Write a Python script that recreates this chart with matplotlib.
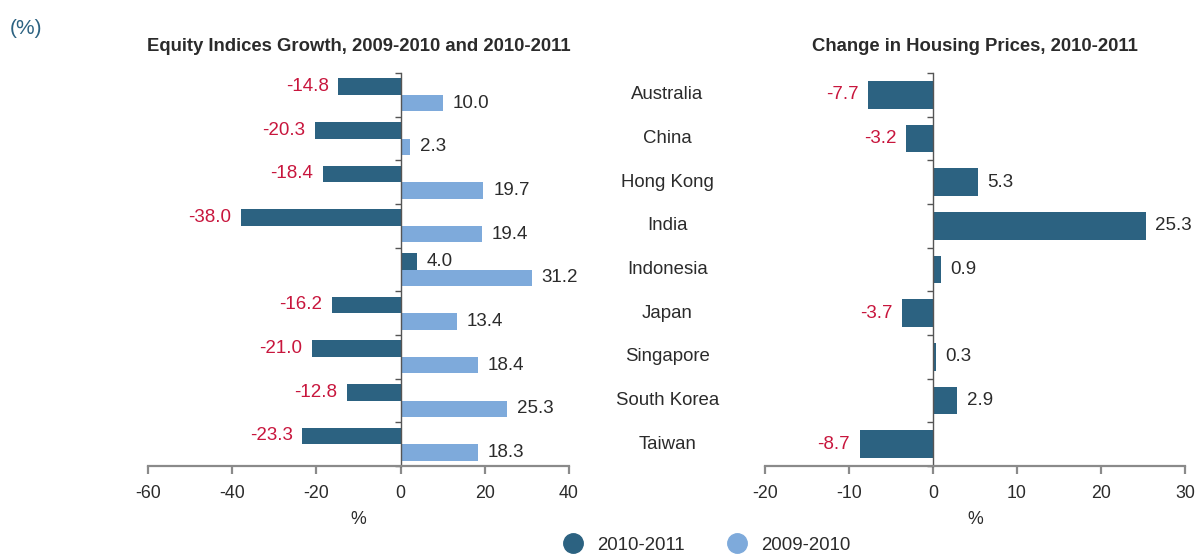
import numpy as np
import matplotlib
matplotlib.use('Agg')
import matplotlib.pyplot as plt
import matplotlib.transforms as mtransforms
from matplotlib.lines import Line2D

plt.rcParams['font.family'] = ['Liberation Sans', 'DejaVu Sans']

countries = ['Australia', 'China', 'Hong Kong', 'India', 'Indonesia',
             'Japan', 'Singapore', 'South Korea', 'Taiwan']
equity_2010_2011 = [-14.8, -20.3, -18.4, -38.0, 4.0, -16.2, -21.0, -12.8, -23.3]
equity_2009_2010 = [10.0, 2.3, 19.7, 19.4, 31.2, 13.4, 18.4, 25.3, 18.3]
housing_2010_2011 = [-7.7, -3.2, 5.3, 25.3, 0.9, -3.7, 0.3, 2.9, -8.7]

dark = '#2c6281'
light = '#7eaadb'
red = '#c8163d'
txt = '#2b2b2b'
gray = '#8a8a8a'

fig = plt.figure(figsize=(11.98, 5.54), dpi=100)
ax1 = fig.add_axes([0.1235, 0.1588, 0.3514, 0.7094])
ax2 = fig.add_axes([0.6386, 0.1588, 0.3506, 0.7094])

y = np.arange(len(countries))


def style(ax, xlim, xticks):
    ax.set_xlim(*xlim)
    ax.set_ylim(len(countries) - 0.5, -0.5)
    ax.set_xticks(xticks)
    ax.set_xticklabels(['%d' % t for t in xticks])
    ax.spines['top'].set_visible(False)
    ax.spines['right'].set_visible(False)
    ax.spines['bottom'].set_color(gray)
    ax.spines['bottom'].set_linewidth(1.6)
    ax.spines['left'].set_position(('data', 0))
    ax.spines['left'].set_color('#555555')
    ax.spines['left'].set_linewidth(1.0)
    ax.set_yticks(np.arange(-0.5, len(countries), 1.0))
    ax.set_yticklabels([])
    ax.tick_params(axis='y', length=4, color='#555555', width=1)
    ax.tick_params(axis='x', length=6, color=gray, width=1.6,
                   labelsize=12.8, labelcolor=txt, pad=8)
    ax.set_xlabel('%', fontsize=12.8, color=txt, labelpad=6)


def label(ax, yy, v, off):
    if v < 0:
        ax.annotate('%.1f' % v, (v, yy), xytext=(-off, 0), textcoords='offset points',
                    ha='right', va='center', fontsize=13.5, color=red)
    else:
        ax.annotate('%.1f' % v, (v, yy), xytext=(off, 0), textcoords='offset points',
                    ha='left', va='center', fontsize=13.5, color=txt)


h = 0.38
ax1.barh(y - h / 2, equity_2010_2011, height=h, color=dark, zorder=2)
ax1.barh(y + h / 2, equity_2009_2010, height=h, color=light, zorder=2)
for i in range(len(countries)):
    label(ax1, y[i] - h / 2, equity_2010_2011[i], 7)
    label(ax1, y[i] + h / 2, equity_2009_2010[i], 7)
style(ax1, (-60, 40), [-60, -40, -20, 0, 20, 40])
ax1.set_title('Equity Indices Growth, 2009-2010 and 2010-2011',
              fontsize=13.3, fontweight='bold', color=txt, pad=16)

ax2.barh(y, housing_2010_2011, height=0.64, color=dark, zorder=2)
for i in range(len(countries)):
    label(ax2, y[i], housing_2010_2011[i], 7)
style(ax2, (-20, 30), [-20, -10, 0, 10, 20, 30])
ax2.set_title('Change in Housing Prices, 2010-2011',
              fontsize=13.3, fontweight='bold', color=txt, pad=16)

# country names between the two panels
tr = mtransforms.blended_transform_factory(fig.transFigure, ax2.transData)
for i, c in enumerate(countries):
    fig.text(0.557, y[i], c, transform=tr, ha='center', va='center',
             fontsize=13.4, color=txt)

fig.text(0.008, 0.949, '(%)', fontsize=15, color='#2c6281', ha='left', va='center')

handles = [Line2D([], [], marker='o', linestyle='none', markersize=14,
                  markerfacecolor=dark, markeredgecolor=dark),
           Line2D([], [], marker='o', linestyle='none', markersize=14,
                  markerfacecolor=light, markeredgecolor=light)]
fig.legend(handles, ['2010-2011', '2009-2010'], loc='center',
           bbox_to_anchor=(0.586, 0.016), ncol=2, frameon=False,
           fontsize=13.4, handletextpad=0.3, columnspacing=1.8,
           labelcolor=txt)

fig.savefig('out.png', dpi=100)
